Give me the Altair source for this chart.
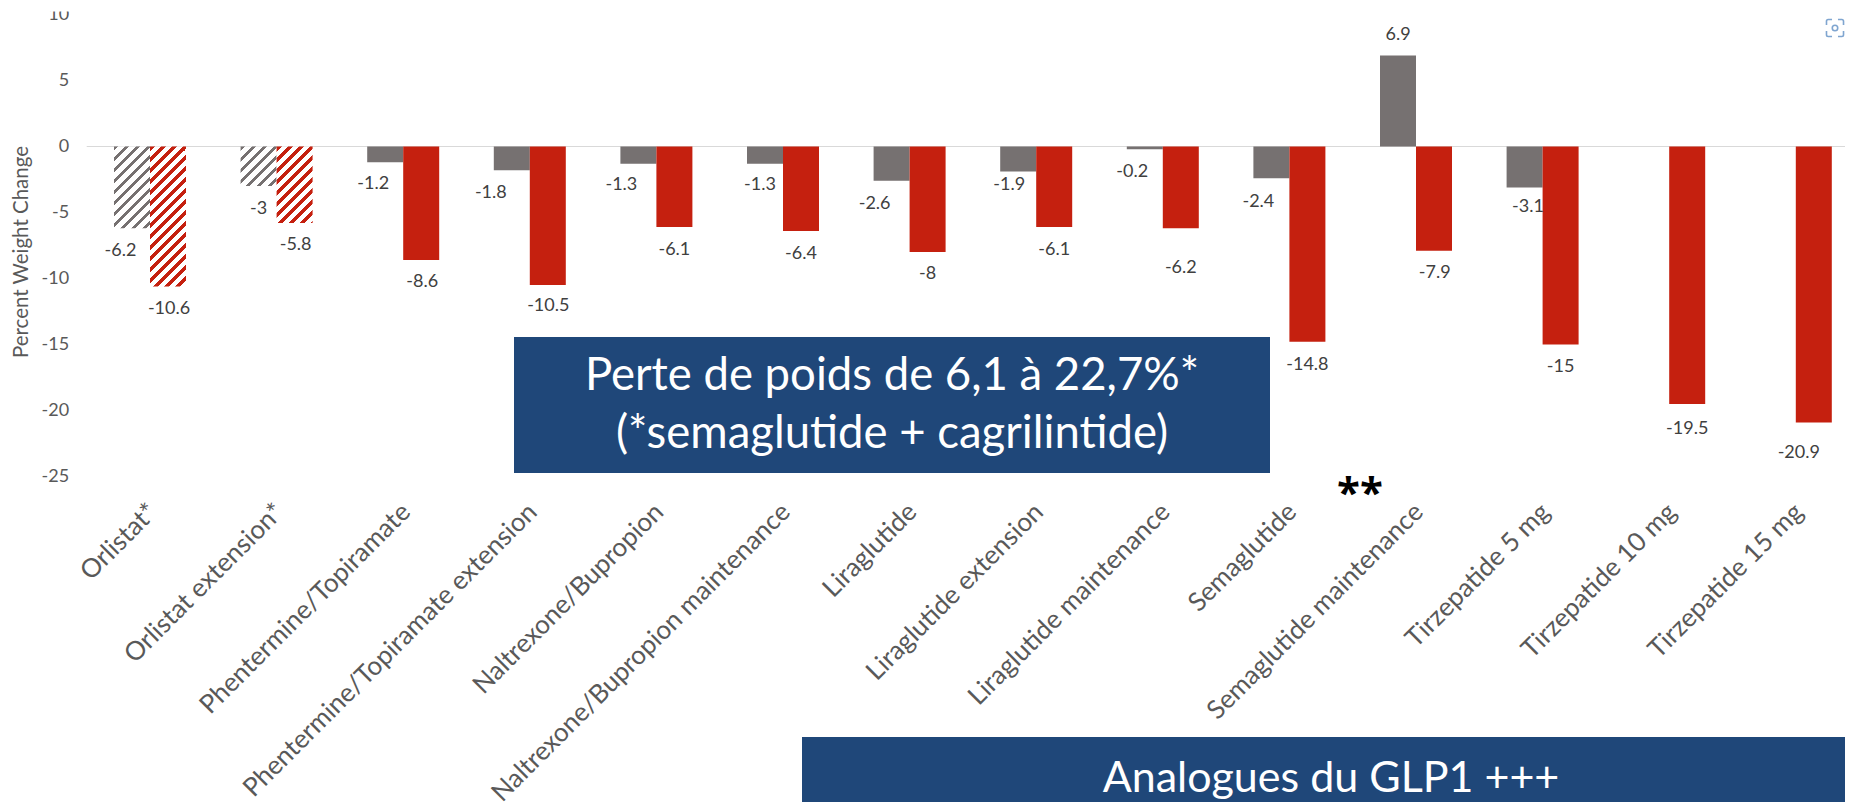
import altair as alt
import pandas as pd

categories = ["Orlistat*", "Orlistat extension*", "Phentermine/Topiramate", "Phentermine/Topiramate extension",
              "Naltrexone/Bupropion", "Naltrexone/Bupropion maintenance", "Liraglutide", "Liraglutide extension",
              "Liraglutide maintenance", "Semaglutide", "Semaglutide maintenance", "Tirzepatide 5 mg",
              "Tirzepatide 10 mg", "Tirzepatide 15 mg"]
grey_values = [-6.2, -3, -1.2, -1.8, -1.3, -1.3, -2.6, -1.9, -0.2, -2.4, 6.9, -3.1, None, None]
red_values = [-10.6, -5.8, -8.6, -10.5, -6.1, -6.4, -8, -6.1, -6.2, -14.8, -7.9, -15, -19.5, -20.9]
hatched_groups = ["Orlistat*", "Orlistat extension*"]

# label nudges (dx, dy) from each bar's end, as the source places them by hand
grey_nudge = [(-11.5, 23), (0, 23), (-12, 22), (-21, 23), (-17, 21.5), (-5, 21.5), (-17, 23), (-9, 13.6),
              (-12.6, 23), (-13, 23.5), (0, -20.6), (3.4, 20), None, None]
red_nudge = [(1, 23), (1, 22), (1, 22), (0.5, 21), (0, 23), (0, 23), (0, 22), (0, 23), (0, 39.5), (0, 23),
             (0.7, 22), (0, 22.6), (0, 25), (-15, 31)]

GREY, RED, NAVY, INK = "#767171", "#c5200f", "#1f4779", "#595959"
FONT = "Lato"
STEP, PX_PER_UNIT, BAR = 126.6, 13.2, 36
BAND_W, PLOT_H = 14 * STEP, 35 * PX_PER_UNIT
LEFT, TOP = 78.7, 6.5
ORIGIN_X, ORIGIN_Y = 8 + LEFT, 8 + TOP
PLOT_W = 1837 - LEFT
SVG_H = 794
series_order = ["grey", "red"]


def make_rows():
    rows = []
    for i, c in enumerate(categories):
        if grey_values[i] is not None:
            rows.append(dict(cat=c, series="grey", value=grey_values[i], nudge=grey_nudge[i]))
        rows.append(dict(cat=c, series="red", value=red_values[i], nudge=red_nudge[i]))
    return rows


rows = make_rows()
enc = dict(
    x=alt.X("cat:N", sort=categories,
            scale=alt.Scale(domain=categories, paddingInner=0, paddingOuter=0, range=[0, BAND_W]),
            axis=alt.Axis(title=None, labelAngle=-45, labelAlign="right", labelBaseline="middle",
                          labelFontSize=26, labelFont=FONT, labelColor=INK, labelPadding=31, labelOffset=3,
                          labelLimit=1000, labelOverlap=False, ticks=False, domain=False, grid=False)),
    xOffset=alt.XOffset("series:N", sort=series_order,
                        scale=alt.Scale(domain=series_order, paddingInner=0, paddingOuter=(STEP - 2 * BAR) / (2 * BAR))),
    y=alt.Y("value:Q", scale=alt.Scale(domain=[-25, 10], nice=False),
            axis=alt.Axis(title="Percent Weight Change", values=list(range(-25, 11, 5)),
                          labelExpr="'' + datum.value", labelFontSize=18, labelFont=FONT, labelColor=INK,
                          labelPadding=18, ticks=False, domain=False, grid=False,
                          titleFontSize=20.5, titleFont=FONT, titleFontWeight="normal", titleColor=INK,
                          titleX=-65, titleY=237, titleAlign="center", titleBaseline="middle")),
)


def hatch(color, value, frac, pitch):
    """Diagonal 45-degree stripes as a hard-stop gradient; t = (px+py)/(w+h) inside the bar's box."""
    w, h = BAR, abs(value) * PX_PER_UNIT
    s = (1 / h + 1 / w) / (1 / h ** 2 + 1 / w ** 2)
    period = pitch / (w + h)
    stops, k = [], 0
    while k * period < 1:
        a = k * period
        stops += [alt.GradientStop(color=color, offset=min(a, 1)),
                  alt.GradientStop(color=color, offset=min(a + period * frac, 1)),
                  alt.GradientStop(color="#ffffff", offset=min(a + period * frac, 1)),
                  alt.GradientStop(color="#ffffff", offset=min(a + period, 1))]
        k += 1
    return alt.LinearGradient(gradient="linear", stops=stops, x1=0, y1=0, x2=s / h, y2=s / w)


one = pd.DataFrame({"a": [0]})
zero = alt.Chart(one).mark_rule(color="#d9d9d9", strokeWidth=1.2).encode(
    y=alt.datum(0, scale=alt.Scale(domain=[-25, 10], nice=False)))

layers = [zero]
for r in rows:
    hatched = r["cat"] in hatched_groups
    col = GREY if r["series"] == "grey" else RED
    if hatched:
        fill = hatch(col, r["value"], 0.36, 11) if r["series"] == "grey" else hatch(col, r["value"], 0.5, 11)
    else:
        fill = col
    df = pd.DataFrame([dict(cat=r["cat"], series=r["series"], value=r["value"])])
    layers.append(alt.Chart(df).mark_bar(fill=fill, size=BAR).encode(**enc, y2=alt.datum(0)))
for r in rows:
    df = pd.DataFrame([dict(cat=r["cat"], series=r["series"], value=r["value"], label=str(r["value"]))])
    layers.append(alt.Chart(df).mark_text(font=FONT, fontSize=18, color="#404040", dx=r["nudge"][0], dy=r["nudge"][1],
                                          baseline="middle", align="center").encode(**enc, text="label:N"))


def box(x0, x1, y0, y1, color):
    return alt.Chart(one).mark_rect(color=color).encode(
        x=alt.value(x0 - ORIGIN_X), x2=alt.value(x1 - ORIGIN_X), y=alt.value(y0 - ORIGIN_Y), y2=alt.value(y1 - ORIGIN_Y))


def note(text, x, y, size, color="#ffffff", font=FONT, weight="normal", baseline="alphabetic"):
    return alt.Chart(pd.DataFrame({"t": [text]})).mark_text(
        font=font, fontSize=size, color=color, fontWeight=weight, align="center", baseline=baseline).encode(
        x=alt.value(x - ORIGIN_X), y=alt.value(y - ORIGIN_Y), text="t:N")


def glyph(x, y, shape, size, **style):
    return alt.Chart(one).mark_point(shape=shape, size=size, **style).encode(
        x=alt.value(x - ORIGIN_X), y=alt.value(y - ORIGIN_Y))


CORNERS = ("M-1,-0.35 L-1,-0.8 Q-1,-1 -0.8,-1 L-0.35,-1 M0.35,-1 L0.8,-1 Q1,-1 1,-0.8 L1,-0.35 "
           "M1,0.35 L1,0.8 Q1,1 0.8,1 L0.35,1 M-0.35,1 L-0.8,1 Q-1,1 -1,0.8 L-1,0.35")

layers += [box(40, 84, 0, 11.5, "#ffffff"),
           box(514, 1270, 337, 473, NAVY),
           note("Perte de poids de 6,1 à 22,7%*", 892, 390, 45.5),
           note("(*semaglutide + cagrilintide)", 892, 448, 45.5),
           box(802, 1860, 737, 810, NAVY),
           note("Analogues du GLP1 +++", 1331, 792, 43),
           note("**", 1360, 494, 42, "#000000", "Open Sans", "bold", "middle"),
           glyph(1835, 28, CORNERS, 290, filled=False, stroke="#4a80bd", strokeWidth=1.6),
           glyph(1835, 28, "circle", 30, filled=False, stroke="#4a80bd", strokeWidth=1.6)]

chart = alt.layer(*layers).properties(
    width=PLOT_W, height=PLOT_H,
    autosize=alt.AutoSizeParams(type="none", contains="content"),
    padding={"left": LEFT, "top": TOP, "right": 0, "bottom": SVG_H - TOP - PLOT_H},
    background="#ffffff",
).configure_view(stroke=None)

chart.save("out.html", embed_options={"renderer": "svg", "actions": False})
